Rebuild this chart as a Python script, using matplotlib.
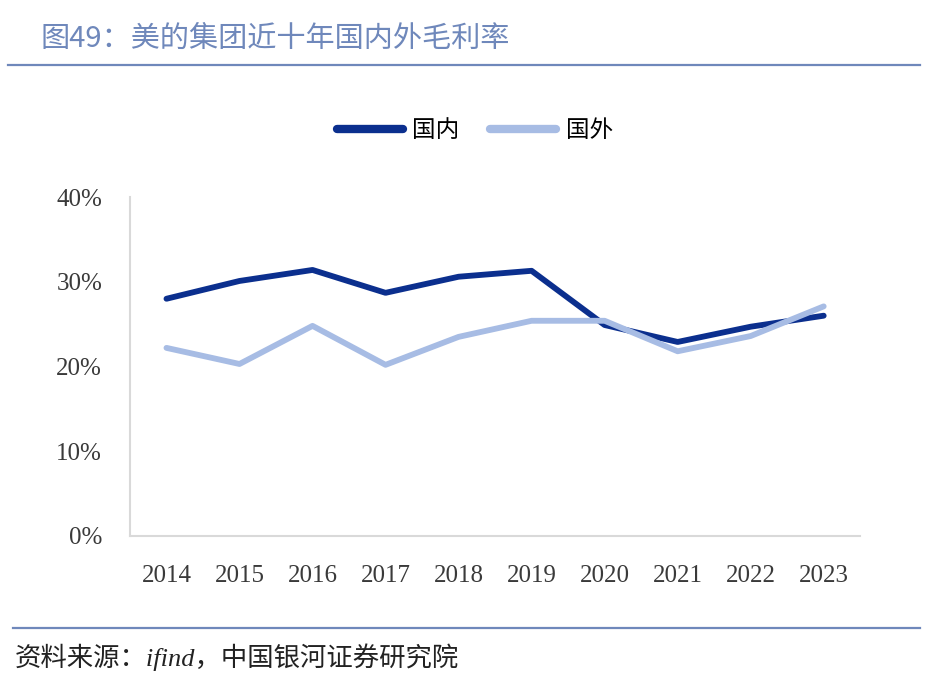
import matplotlib
matplotlib.use("Agg")
import matplotlib.pyplot as plt
import matplotlib.ticker as mticker
from matplotlib.lines import Line2D

# Data (gross margin, %)
years = ["2014", "2015", "2016", "2017", "2018", "2019", "2020", "2021", "2022", "2023"]
domestic = [28.0, 30.1, 31.4, 28.7, 30.6, 31.3, 24.9, 22.9, 24.7, 26.0]
overseas = [22.2, 20.3, 24.8, 20.2, 23.5, 25.4, 25.4, 21.8, 23.6, 27.1]
series_names = ["国内", "国外"]

TITLE = "图49：美的集团近十年国内外毛利率"
SOURCE = "资料来源：ifind，中国银河证券研究院"

DARK = "#0b2f8e"
LIGHT = "#a7bce4"
ACCENT = "#6f88bb"

plt.rcParams["font.family"] = ["Noto Sans CJK SC", "DejaVu Sans"]

fig = plt.figure(figsize=(9.35, 6.75), dpi=100)
ax = fig.add_axes([0.139, 0.206, 0.781, 0.502])

x = range(len(years))
ax.plot(x, domestic, color=DARK, linewidth=4.2, solid_capstyle="round", solid_joinstyle="round", zorder=2)
ax.plot(x, overseas, color=LIGHT, linewidth=4.2, solid_capstyle="round", solid_joinstyle="round", zorder=3)

ax.set_xlim(-0.5, len(years) - 0.5)
ax.set_ylim(0, 40)
ax.set_xticks(list(x))
ax.set_xticklabels(years)
ax.yaxis.set_major_locator(mticker.MultipleLocator(10))
ax.yaxis.set_major_formatter(mticker.FuncFormatter(lambda v, _: f"{int(v)}%"))
for lbl in ax.get_xticklabels() + ax.get_yticklabels():
    lbl.set_family("Liberation Serif")
    lbl.set_fontsize(18)
    lbl.set_color("#3a3a3a")
ax.tick_params(length=0)
ax.tick_params(axis="x", pad=21)
ax.tick_params(axis="y", pad=20)

for side in ["top", "right"]:
    ax.spines[side].set_visible(False)
ax.spines["left"].set_color("#d9d9d9")
ax.spines["left"].set_linewidth(1.5)
ax.spines["bottom"].set_color("#d9d9d9")
ax.spines["bottom"].set_linewidth(1.5)

handles = [Line2D([0], [0], color=DARK, linewidth=6, solid_capstyle="round"),
           Line2D([0], [0], color=LIGHT, linewidth=6, solid_capstyle="round")]
fig.legend(handles, series_names, loc="center", bbox_to_anchor=(0.508, 0.807),
           ncol=2, frameon=False, fontsize=17, handlelength=2.8,
           columnspacing=1.3, handletextpad=0.4)

fig.text(0.043, 0.942, TITLE, fontsize=21, color=ACCENT, va="center", ha="left")
fig.add_artist(Line2D([0.009, 0.984], [0.903, 0.903], color=ACCENT, linewidth=1.6))
fig.add_artist(Line2D([0.014, 0.984], [0.070, 0.070], color=ACCENT, linewidth=1.6))
fig.text(0.016, 0.026, SOURCE, fontsize=19, color="#222222", style="italic",
         family=["Liberation Serif", "Noto Sans CJK SC"], va="center", ha="left")

fig.savefig("out.png", dpi=100)
